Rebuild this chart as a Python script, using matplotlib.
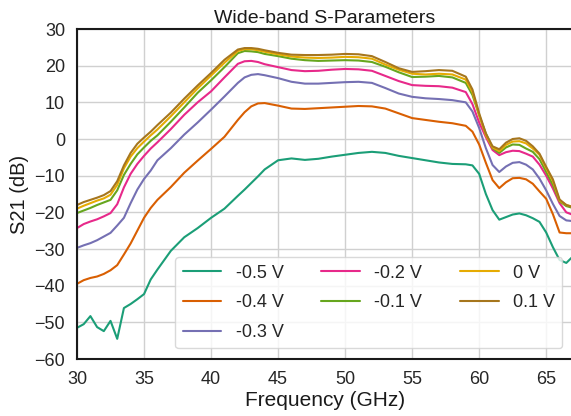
import matplotlib
matplotlib.use("Agg")
import matplotlib.pyplot as plt
import seaborn as sns

freq = [30, 30.5, 31, 31.5, 32, 32.5, 33, 33.5, 34, 34.5, 35, 35.5, 36, 37, 38, 39, 40, 41, 42, 42.5,
        43, 43.5, 44, 45, 46, 47, 48, 49, 50, 51, 52, 53, 54, 55, 56, 57, 58, 59, 59.5, 60,
        60.5, 61, 61.5, 62, 62.5, 63, 63.5, 64, 64.5, 65, 65.5, 66, 66.5, 67]

s_m05 = [-51.5, -50.5, -48.3, -51.3, -52.4, -49.6, -54.5, -46.1, -45.0, -43.7, -42.3, -38.3, -35.6, -30.5, -26.8, -24.3, -21.5, -19.0, -15.5, -13.8,
         -12.0, -10.2, -8.3, -5.8, -5.3, -5.7, -5.4, -4.8, -4.3, -3.8, -3.5, -3.8, -4.6, -5.2, -5.8, -6.4, -6.8, -6.9, -7.2, -9.5,
         -15.0, -19.4, -22.0, -21.3, -20.6, -20.3, -20.8, -21.6, -22.6, -25.5, -29.5, -33.0, -33.8, -32.0]
s_m04 = [-39.5, -38.5, -37.9, -37.5, -36.8, -35.8, -34.4, -31.5, -28.5, -25.0, -21.5, -18.8, -16.6, -13.1, -9.2, -5.9, -2.7, 0.6, 5.2, 7.3,
         8.9, 9.7, 9.8, 9.1, 8.3, 8.2, 8.4, 8.6, 8.8, 9.0, 8.9, 8.3, 7.0, 5.7, 5.2, 4.7, 4.3, 3.6, 2.0, -1.5,
         -6.5, -11.2, -13.4, -11.8, -10.7, -10.6, -11.0, -12.2, -14.3, -16.3, -20.5, -25.5, -25.7, -25.7]
s_m03 = [-29.7, -29.0, -28.4, -27.6, -26.6, -25.6, -23.6, -21.5, -17.5, -13.8, -10.9, -8.6, -5.8, -2.5, 1.2, 4.5, 8.0, 11.6, 15.3, 16.8,
         17.5, 17.7, 17.4, 16.6, 15.6, 15.1, 15.1, 15.3, 15.5, 15.6, 15.3, 13.9, 12.4, 11.5, 11.1, 10.9, 10.6, 10.0, 7.5, 3.0,
         -2.5, -7.1, -9.0, -7.5, -6.5, -6.3, -7.0, -8.3, -10.8, -14.0, -17.7, -21.0, -22.2, -22.4]
s_m02 = [-24.3, -23.2, -22.5, -21.9, -21.1, -20.2, -17.8, -13.2, -9.5, -6.8, -4.6, -2.6, -0.9, 2.7, 6.6, 10.0, 13.0, 16.8, 20.5, 21.2,
         21.3, 21.0, 20.4, 19.6, 18.8, 18.5, 18.6, 18.9, 19.1, 19.0, 18.6, 17.2, 15.8, 14.7, 14.5, 14.4, 14.0, 12.8, 9.5, 4.5,
         0.5, -3.0, -4.4, -3.6, -3.2, -3.3, -4.0, -4.8, -7.0, -10.0, -13.5, -17.5, -20.0, -20.7]
s_m01 = [-20.2, -19.5, -18.8, -18.0, -17.3, -16.6, -14.0, -9.8, -6.8, -4.2, -2.3, -0.5, 1.0, 4.7, 8.6, 12.6, 16.0, 19.6, 23.4, 24.0,
         23.9, 23.7, 23.2, 22.6, 21.9, 21.5, 21.3, 21.4, 21.5, 21.4, 21.0, 19.7, 18.2, 16.9, 17.0, 17.2, 16.8, 15.3, 12.0, 6.5,
         1.5, -2.5, -3.8, -2.3, -1.5, -1.6, -2.6, -3.5, -5.5, -9.0, -12.5, -17.0, -18.3, -18.8]
s_00 = [-19.0, -18.2, -17.5, -16.8, -16.2, -15.2, -12.5, -8.0, -4.8, -2.5, -0.7, 1.0, 2.6, 6.2, 10.0, 13.8, 17.3, 20.8, 24.0, 24.5,
        24.5, 24.2, 23.8, 23.1, 22.5, 22.2, 22.1, 22.2, 22.4, 22.3, 21.9, 20.3, 18.9, 17.8, 17.6, 17.8, 17.6, 16.2, 12.8, 6.5,
        1.0, -2.3, -3.3, -1.6, -0.7, -0.6, -1.2, -2.6, -4.3, -8.0, -11.5, -16.8, -18.0, -18.5]
s_p01 = [-18.0, -17.2, -16.6, -16.0, -15.3, -14.2, -11.5, -7.2, -3.8, -1.3, 0.4, 2.0, 3.8, 7.2, 11.0, 14.6, 18.0, 21.6, 24.4, 24.8,
         24.8, 24.6, 24.2, 23.5, 23.0, 22.9, 22.9, 23.0, 23.2, 23.1, 22.6, 21.0, 19.3, 18.3, 18.5, 18.8, 18.6, 17.0, 13.5, 7.0,
         1.5, -2.0, -2.8, -1.0, 0.0, 0.2, -0.5, -2.0, -4.0, -7.6, -11.0, -16.5, -18.0, -18.6]

series = [s_m05, s_m04, s_m03, s_m02, s_m01, s_00, s_p01]
labels = ["-0.5 V", "-0.4 V", "-0.3 V", "-0.2 V", "-0.1 V", "0 V", "0.1 V"]
xticks = [30, 35, 40, 45, 50, 55, 60, 65]
yticks = [-60, -50, -40, -30, -20, -10, 0, 10, 20, 30]

sns.set_theme(style="whitegrid")
plt.rcParams['font.family'] = ['Liberation Sans', 'DejaVu Sans']
plt.rcParams['axes.unicode_minus'] = True

colors = sns.color_palette("Dark2", 7)

fig = plt.figure(figsize=(5.71, 4.16), dpi=100)
ax = fig.add_axes([77/571, 1 - 359/416, (573 - 77)/571, (359 - 29)/416])

for y, lab, c in zip(series, labels, colors):
    ax.plot(freq, y, color=c, lw=1.5, label=lab)

ax.set_xlim(30, 67)
ax.set_ylim(-60, 30)
ax.set_xticks(xticks)
ax.set_yticks(yticks)
ax.tick_params(labelsize=13, colors='#262626', length=0, pad=8.5)
for sp in ax.spines.values():
    sp.set_linewidth(1.5)
    sp.set_color('#1a1a1a')
ax.grid(True, color='#d0d0d0', lw=1.0)

ax.set_title("Wide-band S-Parameters", fontsize=14, color='#1a1a1a', pad=4)
ax.set_xlabel("Frequency (GHz)", fontsize=15, color='#1a1a1a', labelpad=2)
ax.set_ylabel("S21 (dB)", fontsize=14.5, color='#1a1a1a', labelpad=4)

leg = ax.legend(ncol=3, loc='lower right', fontsize=13, handlelength=2.15,
                handletextpad=0.78, columnspacing=2.1, labelspacing=0.7,
                borderaxespad=0.6, frameon=True)
leg.get_frame().set_edgecolor('#d0d0d0')

fig.savefig("out.png", dpi=100)
